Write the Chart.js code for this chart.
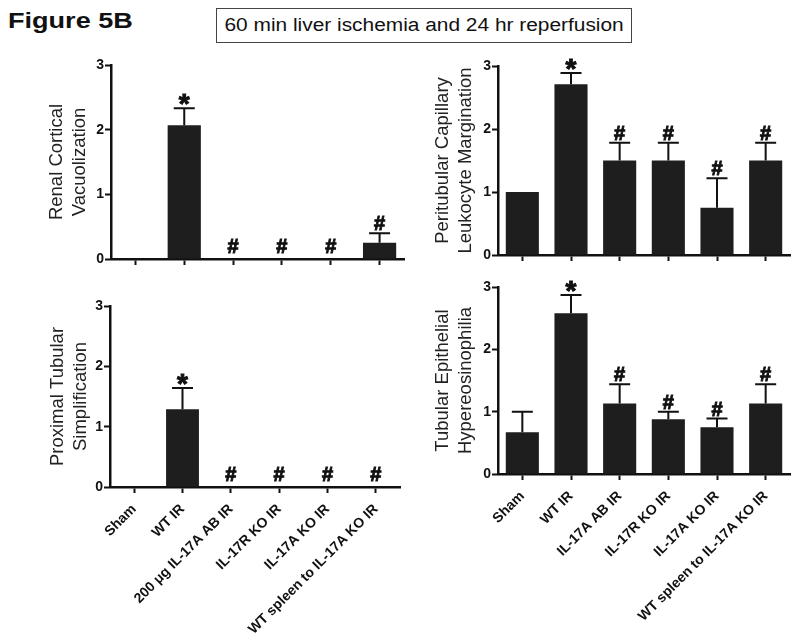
<!DOCTYPE html>
<html>
<head>
<meta charset="utf-8">
<script src="https://cdn.jsdelivr.net/npm/chart.js@4/dist/chart.umd.min.js"></script>
<style>
  body { margin: 0; background: #fff; width: 800px; height: 636px; overflow: hidden; position: relative; font-family: "Liberation Sans", Arial, sans-serif; }
  .panel { position: absolute; }
  #fig { position: absolute; left: 8px; top: 8px; font-weight: bold; font-size: 22px; color: #111; transform: scaleX(1.23); transform-origin: left top; }
  #box { position: absolute; left: 216px; top: 8px; width: 414px; height: 33px; border: 1px solid #444; text-align: center; line-height: 33px; }
  #box span { display: inline-block; font-size: 18px; color: #111; transform: scaleX(1.16); }
</style>
</head>
<body>
<div id="fig">Figure 5B</div>
<div id="box"><span>60 min liver ischemia and 24 hr reperfusion</span></div>

<div class="panel" style="left:0;top:50px"><canvas id="c1" width="410" height="225"></canvas></div>
<div class="panel" style="left:400px;top:50px"><canvas id="c2" width="400" height="225"></canvas></div>
<div class="panel" style="left:0;top:280px"><canvas id="c3" width="410" height="356"></canvas></div>
<div class="panel" style="left:400px;top:270px"><canvas id="c4" width="400" height="366"></canvas></div>

<script>
// group labels
const groupsLeft = ["Sham", "WT IR", "200 \u03bcg IL-17A AB IR", "IL-17R KO IR", "IL-17A KO IR", "WT spleen to IL-17A KO IR"];
const groupsRight = ["Sham", "WT IR", "IL-17A AB IR", "IL-17R KO IR", "IL-17A KO IR", "WT spleen to IL-17A KO IR"];
const yTicks = [0, 1, 2, 3];

// mean scores and upper error (SEM)
const vacuolization = [0, 2.07, 0, 0, 0, 0.25];
const vacuolizationErr = [0, 0.26, 0, 0, 0, 0.15];
const margination = [1.0, 2.71, 1.5, 1.5, 0.75, 1.5];
const marginationErr = [0, 0.18, 0.28, 0.28, 0.47, 0.28];
const simplification = [0, 1.29, 0, 0, 0, 0];
const simplificationErr = [0, 0.35, 0, 0, 0, 0];
const hypereosinophilia = [0.67, 2.58, 1.13, 0.88, 0.75, 1.13];
const hypereosinophiliaErr = [0.33, 0.29, 0.31, 0.12, 0.14, 0.31];

// significance marks
const marks = ["", "*", "#", "#", "#", "#"];

const FONT = "'Liberation Sans', Arial, sans-serif";
const INK = "#111";

// draws one-sided error bars and the * / # marks above them
const errorBarPlugin = {
  id: "errorBars",
  afterDatasetsDraw(chart) {
    const { ctx, scales: { x, y } } = chart;
    const ds = chart.data.datasets[0];
    ctx.save();
    ds.data.forEach((v, i) => {
      const err = ds.errors[i];
      const px = x.getPixelForValue(i);
      const yBar = y.getPixelForValue(v);
      const yTop = y.getPixelForValue(v + err);
      if (err > 0) {
        ctx.strokeStyle = INK;
        ctx.lineWidth = 2;
        ctx.beginPath();
        ctx.moveTo(px, yBar);
        ctx.lineTo(px, yTop);
        ctx.moveTo(px - 10.5, yTop);
        ctx.lineTo(px + 10.5, yTop);
        ctx.stroke();
      }
      const m = ds.marks[i];
      ctx.fillStyle = INK;
      ctx.strokeStyle = INK;
      ctx.lineWidth = 1;
      ctx.textAlign = "center";
      ctx.textBaseline = "alphabetic";
      if (m === "*") {
        ctx.font = "bold 28px " + FONT;
        ctx.fillText(m, px, yTop + 5);
        ctx.strokeText(m, px, yTop + 5);
      } else if (m === "#") {
        const ty = yTop - (err > 0 ? 3 : 6);
        ctx.font = "bold 20px " + FONT;
        ctx.fillText(m, px, ty);
        ctx.strokeText(m, px, ty);
      }
    });
    ctx.restore();
  },
};

function makePanel(id, labels, values, errs, title, showLabels, g) {
  new Chart(document.getElementById(id), {
    type: "bar",
    data: {
      labels: labels,
      datasets: [
        {
          data: values,
          errors: errs,
          marks: marks,
          backgroundColor: "#1e1e1e",
          borderWidth: 0,
          categoryPercentage: 1,
          barPercentage: 0.68,
        },
      ],
    },
    options: {
      responsive: false,
      animation: false,
      devicePixelRatio: 1,
      layout: { padding: { top: g.top, right: g.right, left: 0, bottom: 0 } },
      plugins: { legend: { display: false }, tooltip: { enabled: false } },
      scales: {
        x: {
          offset: true,
          grid: { offset: false, drawOnChartArea: false, drawTicks: true, tickLength: 6, tickWidth: 2, color: INK },
          border: { display: true, width: 2.5, color: INK },
          ticks: {
            display: showLabels,
            autoSkip: false,
            maxRotation: 45,
            minRotation: 45,
            padding: 8,
            color: INK,
            font: { family: FONT, size: 14, weight: "bold" },
          },
          afterFit: (s) => { s.height = g.xH; },
        },
        y: {
          min: 0,
          max: 3,
          afterBuildTicks: (s) => { s.ticks = yTicks.map((v) => ({ value: v })); },
          grid: { drawOnChartArea: false, drawTicks: true, tickLength: 6, tickWidth: 2, color: INK },
          border: { display: true, width: 2.5, color: INK },
          ticks: { padding: 1, color: INK, font: { family: FONT, size: 14, weight: "bold" } },
          title: {
            display: true,
            text: title,
            color: "#222",
            font: { family: FONT, size: 18.5, lineHeight: 1.25 },
            padding: { top: g.tp, bottom: 0 },
          },
          afterFit: (s) => { s.width = g.yW; },
        },
      },
    },
    plugins: [errorBarPlugin],
  });
}

makePanel("c1", groupsLeft, vacuolization, vacuolizationErr, ["Renal Cortical", "Vacuolization"], false,
  { top: 15, right: 6, yW: 111, xH: 16, tp: 45 });
makePanel("c2", groupsRight, margination, marginationErr, ["Peritubular Capillary", "Leukocyte Margination"], false,
  { top: 16, right: 10, yW: 98, xH: 20, tp: 31.5 });
makePanel("c3", groupsLeft, simplification, simplificationErr, ["Proximal Tubular", "Simplification"], true,
  { top: 26, right: 10, yW: 110, xH: 149, tp: 46 });
makePanel("c4", groupsRight, hypereosinophilia, hypereosinophiliaErr, ["Tubular Epithelial", "Hypereosinophilia"], true,
  { top: 17, right: 10, yW: 98, xH: 162, tp: 31 });
</script>
</body>
</html>
